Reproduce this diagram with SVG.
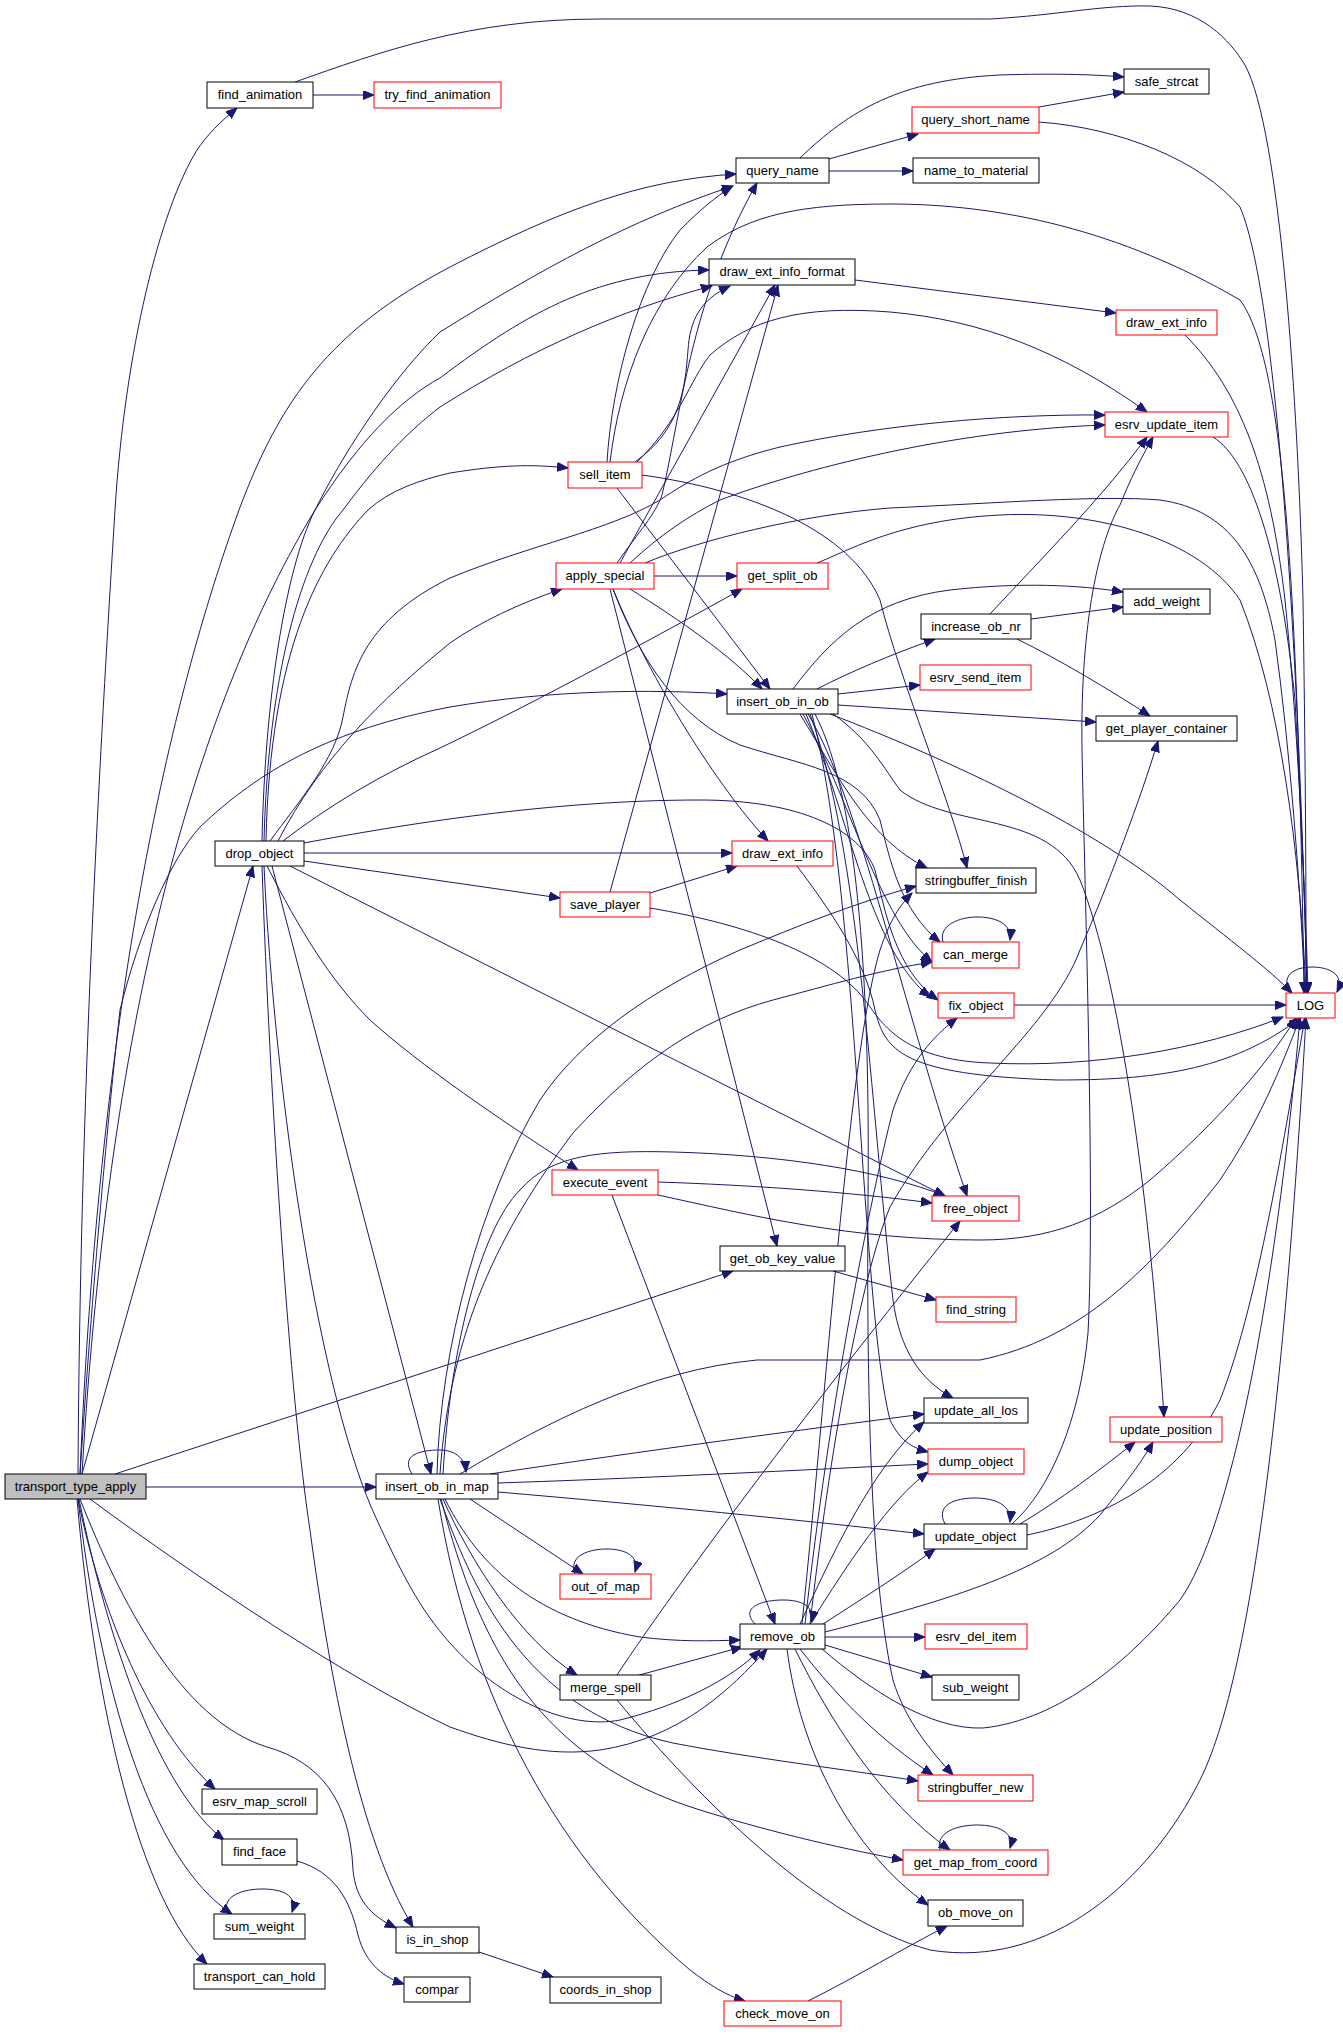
<svg xmlns="http://www.w3.org/2000/svg" width="1343" height="2035" viewBox="0 0 1343 2035">
<style>
.n rect{fill:#fff;stroke:#000;stroke-width:1}
.r rect{stroke:#ff0000}
.g rect{fill:#bfbfbf}
text{font-family:"Liberation Sans",Arial,sans-serif;font-size:13px;text-anchor:middle;fill:#000}
#edges path{fill:none;stroke:#191970;stroke-width:1;marker-end:url(#a)}
</style>
<defs>
<marker id="a" markerUnits="userSpaceOnUse" markerWidth="12" markerHeight="10" refX="11" refY="4.5" orient="auto"><path d="M0,0 L11,4.5 L0,9 z" fill="#191970" stroke="#191970"/></marker>
</defs>
<rect width="1343" height="2035" fill="#fff"/>
<g id="edges">
<path d="M313,95 L374,95"/>
<path d="M295,82 C380,52 470,19 600,19 L990,19 C1060,15 1100,5 1150,6 C1200,8 1230,40 1245,65 C1280,130 1298,400 1303,600 C1306,800 1306,900 1306,993"/>
<path d="M78,1474 C80,1100 100,750 115,510 C125,350 160,210 197,150 C207,135 220,122 237,108"/>
<path d="M80,1474 C100,1000 170,700 239,510 C280,400 330,330 450,267 C560,210 640,180 736,174"/>
<path d="M262,841 C265,700 285,570 315,510 C350,440 400,370 440,332 C540,270 630,220 733,186"/>
<path d="M82,1474 C110,1000 200,700 315,510 C360,440 400,400 440,378 C530,310 600,272 709,270"/>
<path d="M264,841 C268,680 300,560 343,510 C380,460 410,430 440,407 C530,350 620,310 712,286"/>
<path d="M266,841 C270,650 320,560 368,510 C390,490 420,480 450,473 C500,465 530,464 568,468"/>
<path d="M270,841 C300,800 335,760 343,717 C352,670 365,620 450,578 C530,545 610,530 660,500 C690,480 720,462 780,447 C880,425 1000,414 1105,415"/>
<path d="M278,841 C320,760 380,700 450,643 C480,622 520,603 562,589"/>
<path d="M283,841 C330,805 380,775 440,748 C540,700 650,640 742,589"/>
<path d="M80,1474 C95,1250 110,1100 120,1010 C140,930 170,860 200,827 C260,770 330,730 450,707 C550,690 650,689 727,694"/>
<path d="M82,1474 L253,866"/>
<path d="M115,1474 L733,1271"/>
<path d="M146,1487 L376,1487"/>
<path d="M90,1499 C200,1580 350,1680 450,1727 C500,1745 550,1757 600,1750 C680,1738 730,1690 767,1649"/>
<path d="M78,1499 C100,1610 150,1730 215,1789"/>
<path d="M79,1499 C110,1650 160,1790 224,1840"/>
<path d="M78,1499 C100,1690 150,1860 232,1914"/>
<path d="M77,1499 C95,1710 140,1900 207,1964"/>
<path d="M80,1499 C120,1600 180,1720 267,1747 C320,1762 350,1800 353,1870 C356,1900 370,1915 396,1928"/>
<path d="M228,1914 C220,1895 245,1889 262,1889 C282,1889 298,1895 292,1912"/>
<path d="M297,1861 C335,1872 350,1900 358,1935 C366,1965 385,1978 404,1984"/>
<path d="M479,1952 L553,1977"/>
<path d="M304,853 L732,853"/>
<path d="M304,861 L560,898"/>
<path d="M290,866 L945,1196"/>
<path d="M304,843 C400,825 550,800 700,800 C800,800 860,830 875,870 C885,910 895,970 938,1000"/>
<path d="M267,866 C300,930 330,980 370,1020 C420,1065 500,1120 578,1170"/>
<path d="M272,866 L431,1474"/>
<path d="M262,866 C270,1100 290,1400 310,1530 C330,1680 360,1840 413,1927"/>
<path d="M264,866 C275,1100 320,1400 377,1520 C400,1570 420,1610 450,1643 C500,1700 570,1730 620,1720 C680,1705 730,1680 760,1650"/>
<path d="M607,462 C612,380 640,280 680,230 C700,210 715,197 732,187"/>
<path d="M635,462 C680,430 685,390 688,350 C690,320 700,300 730,286"/>
<path d="M637,462 C680,420 690,380 710,355 C750,320 800,305 890,312 C980,320 1060,350 1147,412"/>
<path d="M610,462 C620,380 650,300 707,247 C750,215 800,204 890,204 C1000,204 1120,230 1240,300 C1285,360 1298,600 1304,993"/>
<path d="M642,475 C750,490 850,530 880,600 C900,680 950,800 967,868"/>
<path d="M617,488 L770,689"/>
<path d="M617,563 C640,530 655,515 662,495 C680,420 690,300 757,183"/>
<path d="M620,563 L775,285"/>
<path d="M630,563 C660,535 690,515 720,500 C800,470 950,430 1105,425"/>
<path d="M645,563 C700,540 800,515 890,508 C1000,503 1100,495 1160,500 C1230,510 1260,560 1275,640 C1290,750 1300,880 1305,993"/>
<path d="M654,576 L737,576"/>
<path d="M630,589 C680,620 730,655 762,689"/>
<path d="M613,589 C650,680 720,790 768,841"/>
<path d="M610,589 L777,1246"/>
<path d="M613,589 C640,660 680,720 740,745 C800,765 860,770 880,820 C890,860 900,910 940,942"/>
<path d="M817,689 C850,672 890,655 935,639"/>
<path d="M838,694 L920,685"/>
<path d="M838,705 L1096,722"/>
<path d="M793,689 C830,640 870,600 950,590 C1020,582 1080,585 1123,592"/>
<path d="M830,714 C950,760 1100,830 1180,900 C1230,940 1270,970 1292,993"/>
<path d="M833,714 C870,740 885,770 900,790 C950,830 1050,810 1080,880 C1120,980 1150,1200 1164,1417"/>
<path d="M800,714 C840,780 870,840 927,868"/>
<path d="M803,714 C850,800 880,920 932,962"/>
<path d="M806,714 C850,820 870,950 930,997"/>
<path d="M808,714 C860,800 900,1000 967,1196"/>
<path d="M810,714 C860,850 870,1100 893,1300 C900,1350 920,1380 953,1398"/>
<path d="M812,714 C860,900 860,1300 890,1420 C900,1440 910,1447 928,1452"/>
<path d="M815,714 C860,800 870,1000 868,1200 C866,1450 875,1600 893,1680 C905,1720 930,1750 953,1775"/>
<path d="M755,1624 C740,1608 760,1600 783,1600 C800,1600 815,1605 812,1622"/>
<path d="M800,1624 C830,1560 870,1470 924,1422"/>
<path d="M810,1624 C850,1560 890,1500 928,1472"/>
<path d="M820,1626 C860,1600 900,1575 935,1549"/>
<path d="M825,1637 L925,1637"/>
<path d="M825,1645 L932,1677"/>
<path d="M822,1649 C870,1690 930,1730 983,1728 C1060,1720 1130,1660 1180,1600 C1230,1530 1275,1300 1300,1018"/>
<path d="M800,1649 C840,1700 880,1740 933,1775"/>
<path d="M795,1649 C830,1720 880,1800 950,1850"/>
<path d="M787,1649 C800,1750 850,1850 928,1905"/>
<path d="M805,1624 C830,1400 870,1200 893,1110 C910,1060 935,1035 957,1018"/>
<path d="M802,1624 C830,1350 850,1050 880,950 C890,920 900,905 912,893"/>
<path d="M810,1624 C830,1450 860,1280 890,1207 C950,1100 1050,1030 1080,950 C1110,880 1140,800 1158,741"/>
<path d="M825,1632 C950,1600 1050,1570 1100,1515 C1120,1490 1140,1465 1153,1442"/>
<path d="M412,1474 C400,1455 420,1450 440,1450 C455,1450 465,1458 466,1472"/>
<path d="M437,1474 C440,1350 480,1200 540,1100 C580,1040 650,990 740,950 C800,925 850,905 916,886"/>
<path d="M440,1474 C450,1330 500,1230 573,1133 C640,1060 700,1020 773,1000 C830,985 880,970 932,962"/>
<path d="M443,1474 C450,1350 480,1230 520,1190 C550,1155 600,1150 673,1152 C780,1155 880,1170 945,1196"/>
<path d="M460,1474 C550,1420 650,1370 757,1360 L980,1360 C1080,1340 1150,1270 1220,1180 C1260,1120 1280,1070 1300,1018"/>
<path d="M490,1474 C650,1450 800,1430 924,1414"/>
<path d="M498,1483 C650,1478 800,1470 928,1464"/>
<path d="M498,1492 C650,1505 800,1520 924,1534"/>
<path d="M470,1499 L583,1574"/>
<path d="M445,1499 C480,1570 540,1620 640,1637 C680,1642 710,1641 740,1640"/>
<path d="M443,1499 C470,1560 520,1640 577,1675"/>
<path d="M440,1499 C470,1580 520,1710 673,1743 C750,1758 850,1770 918,1781"/>
<path d="M441,1499 C480,1650 540,1760 700,1810 C780,1835 850,1850 903,1860"/>
<path d="M438,1499 C470,1700 560,1860 690,1970 C710,1985 725,1995 745,2001"/>
<path d="M575,1574 C568,1555 590,1549 607,1549 C625,1549 640,1556 635,1572"/>
<path d="M632,1677 L742,1647"/>
<path d="M617,1675 C680,1580 800,1420 960,1221"/>
<path d="M617,1700 C700,1800 820,1920 930,1950 C1050,1970 1150,1880 1200,1780 C1260,1660 1290,1300 1306,1018"/>
<path d="M808,2001 C860,1975 900,1950 947,1926"/>
<path d="M658,1182 C750,1185 850,1192 932,1203"/>
<path d="M658,1195 C750,1215 850,1240 980,1240 C1050,1240 1100,1220 1150,1180 C1220,1120 1270,1060 1296,1018"/>
<path d="M612,1195 L775,1624"/>
<path d="M833,1271 L936,1300"/>
<path d="M650,893 L737,866"/>
<path d="M610,892 L778,285"/>
<path d="M650,908 C750,925 830,955 865,1000 C880,1020 900,1060 990,1063 C1090,1068 1200,1050 1283,1017"/>
<path d="M797,866 C830,910 865,960 875,1010 C885,1050 900,1075 1057,1080 C1150,1080 1230,1072 1300,1018"/>
<path d="M800,158 C850,110 900,80 1000,75 C1060,73 1100,75 1124,77"/>
<path d="M829,159 L918,134"/>
<path d="M829,171 L913,171"/>
<path d="M1039,107 L1124,92"/>
<path d="M1039,122 C1120,128 1200,160 1240,207 C1280,300 1300,700 1307,993"/>
<path d="M855,280 L1116,313"/>
<path d="M1185,335 C1240,390 1270,470 1285,600 C1300,750 1305,900 1307,993"/>
<path d="M1213,437 C1250,460 1280,550 1295,700 C1303,850 1307,950 1308,993"/>
<path d="M1014,1005 L1286,1005"/>
<path d="M1290,993 C1280,975 1295,967 1312,967 C1330,967 1345,975 1337,992"/>
<path d="M943,942 C938,925 960,917 977,917 C995,917 1012,923 1010,940"/>
<path d="M940,1850 C935,1832 958,1825 977,1825 C997,1825 1015,1832 1010,1848"/>
<path d="M945,1524 C935,1505 955,1498 975,1498 C995,1498 1012,1505 1010,1522"/>
<path d="M1020,1524 C1060,1500 1100,1470 1135,1442"/>
<path d="M1027,1535 C1100,1520 1180,1480 1220,1400 C1260,1300 1290,1100 1305,1018"/>
<path d="M1012,1524 C1050,1490 1080,1420 1088,1333 C1095,1200 1085,900 1082,750 C1080,620 1100,540 1120,505 C1130,480 1140,460 1153,437"/>
<path d="M990,614 C1040,560 1100,500 1147,437"/>
<path d="M1031,619 L1123,607"/>
<path d="M1017,639 C1060,660 1110,690 1150,716"/>
<path d="M817,563 C850,550 900,520 1000,515 C1100,510 1200,540 1240,600 C1280,700 1300,850 1306,993"/>
</g>
<g id="n_tta" class="n g"><rect x="5" y="1474" width="141" height="25"/><text x="75.5" y="1491">transport_type_apply</text></g>
<g id="n_find_animation" class="n"><rect x="207" y="82" width="106" height="26"/><text x="260" y="99">find_animation</text></g>
<g id="n_try_find_animation" class="n r"><rect x="374" y="82" width="127" height="26"/><text x="437.5" y="99">try_find_animation</text></g>
<g id="n_LOG" class="n r"><rect x="1286" y="993" width="49" height="25"/><text x="1310.5" y="1010">LOG</text></g>
<g id="n_query_name" class="n"><rect x="736" y="158" width="93" height="25"/><text x="782.5" y="175">query_name</text></g>
<g id="n_safe_strcat" class="n"><rect x="1124" y="69" width="85" height="25"/><text x="1166.5" y="86">safe_strcat</text></g>
<g id="n_query_short_name" class="n r"><rect x="912" y="107" width="127" height="26"/><text x="975.5" y="124">query_short_name</text></g>
<g id="n_name_to_material" class="n"><rect x="913" y="158" width="126" height="25"/><text x="976" y="175">name_to_material</text></g>
<g id="n_draw_ext_info_format" class="n"><rect x="709" y="259" width="146" height="26"/><text x="782" y="276">draw_ext_info_format</text></g>
<g id="n_draw_ext_info_1" class="n r"><rect x="1116" y="310" width="101" height="25"/><text x="1166.5" y="327">draw_ext_info</text></g>
<g id="n_esrv_update_item" class="n r"><rect x="1105" y="412" width="123" height="25"/><text x="1166.5" y="429">esrv_update_item</text></g>
<g id="n_sell_item" class="n r"><rect x="568" y="462" width="74" height="26"/><text x="605" y="479">sell_item</text></g>
<g id="n_apply_special" class="n r"><rect x="556" y="563" width="98" height="26"/><text x="605" y="580">apply_special</text></g>
<g id="n_get_split_ob" class="n r"><rect x="737" y="563" width="91" height="26"/><text x="782.5" y="580">get_split_ob</text></g>
<g id="n_add_weight" class="n"><rect x="1123" y="589" width="87" height="25"/><text x="1166.5" y="606">add_weight</text></g>
<g id="n_increase_ob_nr" class="n"><rect x="921" y="614" width="110" height="25"/><text x="976" y="631">increase_ob_nr</text></g>
<g id="n_esrv_send_item" class="n r"><rect x="920" y="665" width="111" height="25"/><text x="975.5" y="682">esrv_send_item</text></g>
<g id="n_insert_ob_in_ob" class="n"><rect x="727" y="689" width="111" height="25"/><text x="782.5" y="706">insert_ob_in_ob</text></g>
<g id="n_get_player_container" class="n"><rect x="1096" y="716" width="141" height="25"/><text x="1166.5" y="733">get_player_container</text></g>
<g id="n_drop_object" class="n"><rect x="215" y="841" width="89" height="25"/><text x="259.5" y="858">drop_object</text></g>
<g id="n_draw_ext_info_2" class="n r"><rect x="732" y="841" width="101" height="25"/><text x="782.5" y="858">draw_ext_info</text></g>
<g id="n_stringbuffer_finish" class="n"><rect x="916" y="868" width="120" height="25"/><text x="976" y="885">stringbuffer_finish</text></g>
<g id="n_save_player" class="n r"><rect x="560" y="892" width="90" height="25"/><text x="605" y="909">save_player</text></g>
<g id="n_can_merge" class="n r"><rect x="932" y="942" width="87" height="26"/><text x="975.5" y="959">can_merge</text></g>
<g id="n_fix_object" class="n r"><rect x="938" y="993" width="76" height="25"/><text x="976" y="1010">fix_object</text></g>
<g id="n_execute_event" class="n r"><rect x="552" y="1170" width="106" height="25"/><text x="605" y="1187">execute_event</text></g>
<g id="n_free_object" class="n r"><rect x="932" y="1196" width="87" height="25"/><text x="975.5" y="1213">free_object</text></g>
<g id="n_get_ob_key_value" class="n"><rect x="720" y="1246" width="125" height="25"/><text x="782.5" y="1263">get_ob_key_value</text></g>
<g id="n_find_string" class="n r"><rect x="936" y="1297" width="80" height="25"/><text x="976" y="1314">find_string</text></g>
<g id="n_update_all_los" class="n"><rect x="924" y="1398" width="104" height="25"/><text x="976" y="1415">update_all_los</text></g>
<g id="n_update_position" class="n r"><rect x="1110" y="1417" width="112" height="25"/><text x="1166" y="1434">update_position</text></g>
<g id="n_dump_object" class="n r"><rect x="928" y="1449" width="96" height="25"/><text x="976" y="1466">dump_object</text></g>
<g id="n_insert_ob_in_map" class="n"><rect x="376" y="1474" width="122" height="25"/><text x="437" y="1491">insert_ob_in_map</text></g>
<g id="n_update_object" class="n"><rect x="924" y="1524" width="103" height="25"/><text x="975.5" y="1541">update_object</text></g>
<g id="n_out_of_map" class="n r"><rect x="560" y="1574" width="91" height="25"/><text x="605.5" y="1591">out_of_map</text></g>
<g id="n_remove_ob" class="n"><rect x="740" y="1624" width="85" height="25"/><text x="782.5" y="1641">remove_ob</text></g>
<g id="n_esrv_del_item" class="n r"><rect x="925" y="1624" width="102" height="25"/><text x="976" y="1641">esrv_del_item</text></g>
<g id="n_merge_spell" class="n"><rect x="560" y="1675" width="91" height="25"/><text x="605.5" y="1692">merge_spell</text></g>
<g id="n_sub_weight" class="n"><rect x="932" y="1675" width="87" height="25"/><text x="975.5" y="1692">sub_weight</text></g>
<g id="n_stringbuffer_new" class="n r"><rect x="918" y="1775" width="115" height="26"/><text x="975.5" y="1792">stringbuffer_new</text></g>
<g id="n_esrv_map_scroll" class="n"><rect x="202" y="1789" width="115" height="25"/><text x="259.5" y="1806">esrv_map_scroll</text></g>
<g id="n_find_face" class="n"><rect x="222" y="1839" width="75" height="26"/><text x="259.5" y="1856">find_face</text></g>
<g id="n_get_map_from_coord" class="n r"><rect x="903" y="1850" width="145" height="25"/><text x="975.5" y="1867">get_map_from_coord</text></g>
<g id="n_ob_move_on" class="n"><rect x="928" y="1900" width="95" height="26"/><text x="975.5" y="1917">ob_move_on</text></g>
<g id="n_sum_weight" class="n"><rect x="214" y="1914" width="91" height="25"/><text x="259.5" y="1931">sum_weight</text></g>
<g id="n_is_in_shop" class="n"><rect x="396" y="1927" width="83" height="26"/><text x="437.5" y="1944">is_in_shop</text></g>
<g id="n_transport_can_hold" class="n"><rect x="194" y="1964" width="131" height="25"/><text x="259.5" y="1981">transport_can_hold</text></g>
<g id="n_compar" class="n"><rect x="404" y="1977" width="66" height="25"/><text x="437" y="1994">compar</text></g>
<g id="n_coords_in_shop" class="n"><rect x="550" y="1977" width="111" height="26"/><text x="605.5" y="1994">coords_in_shop</text></g>
<g id="n_check_move_on" class="n r"><rect x="724" y="2001" width="117" height="25"/><text x="782.5" y="2018">check_move_on</text></g>
</svg>
